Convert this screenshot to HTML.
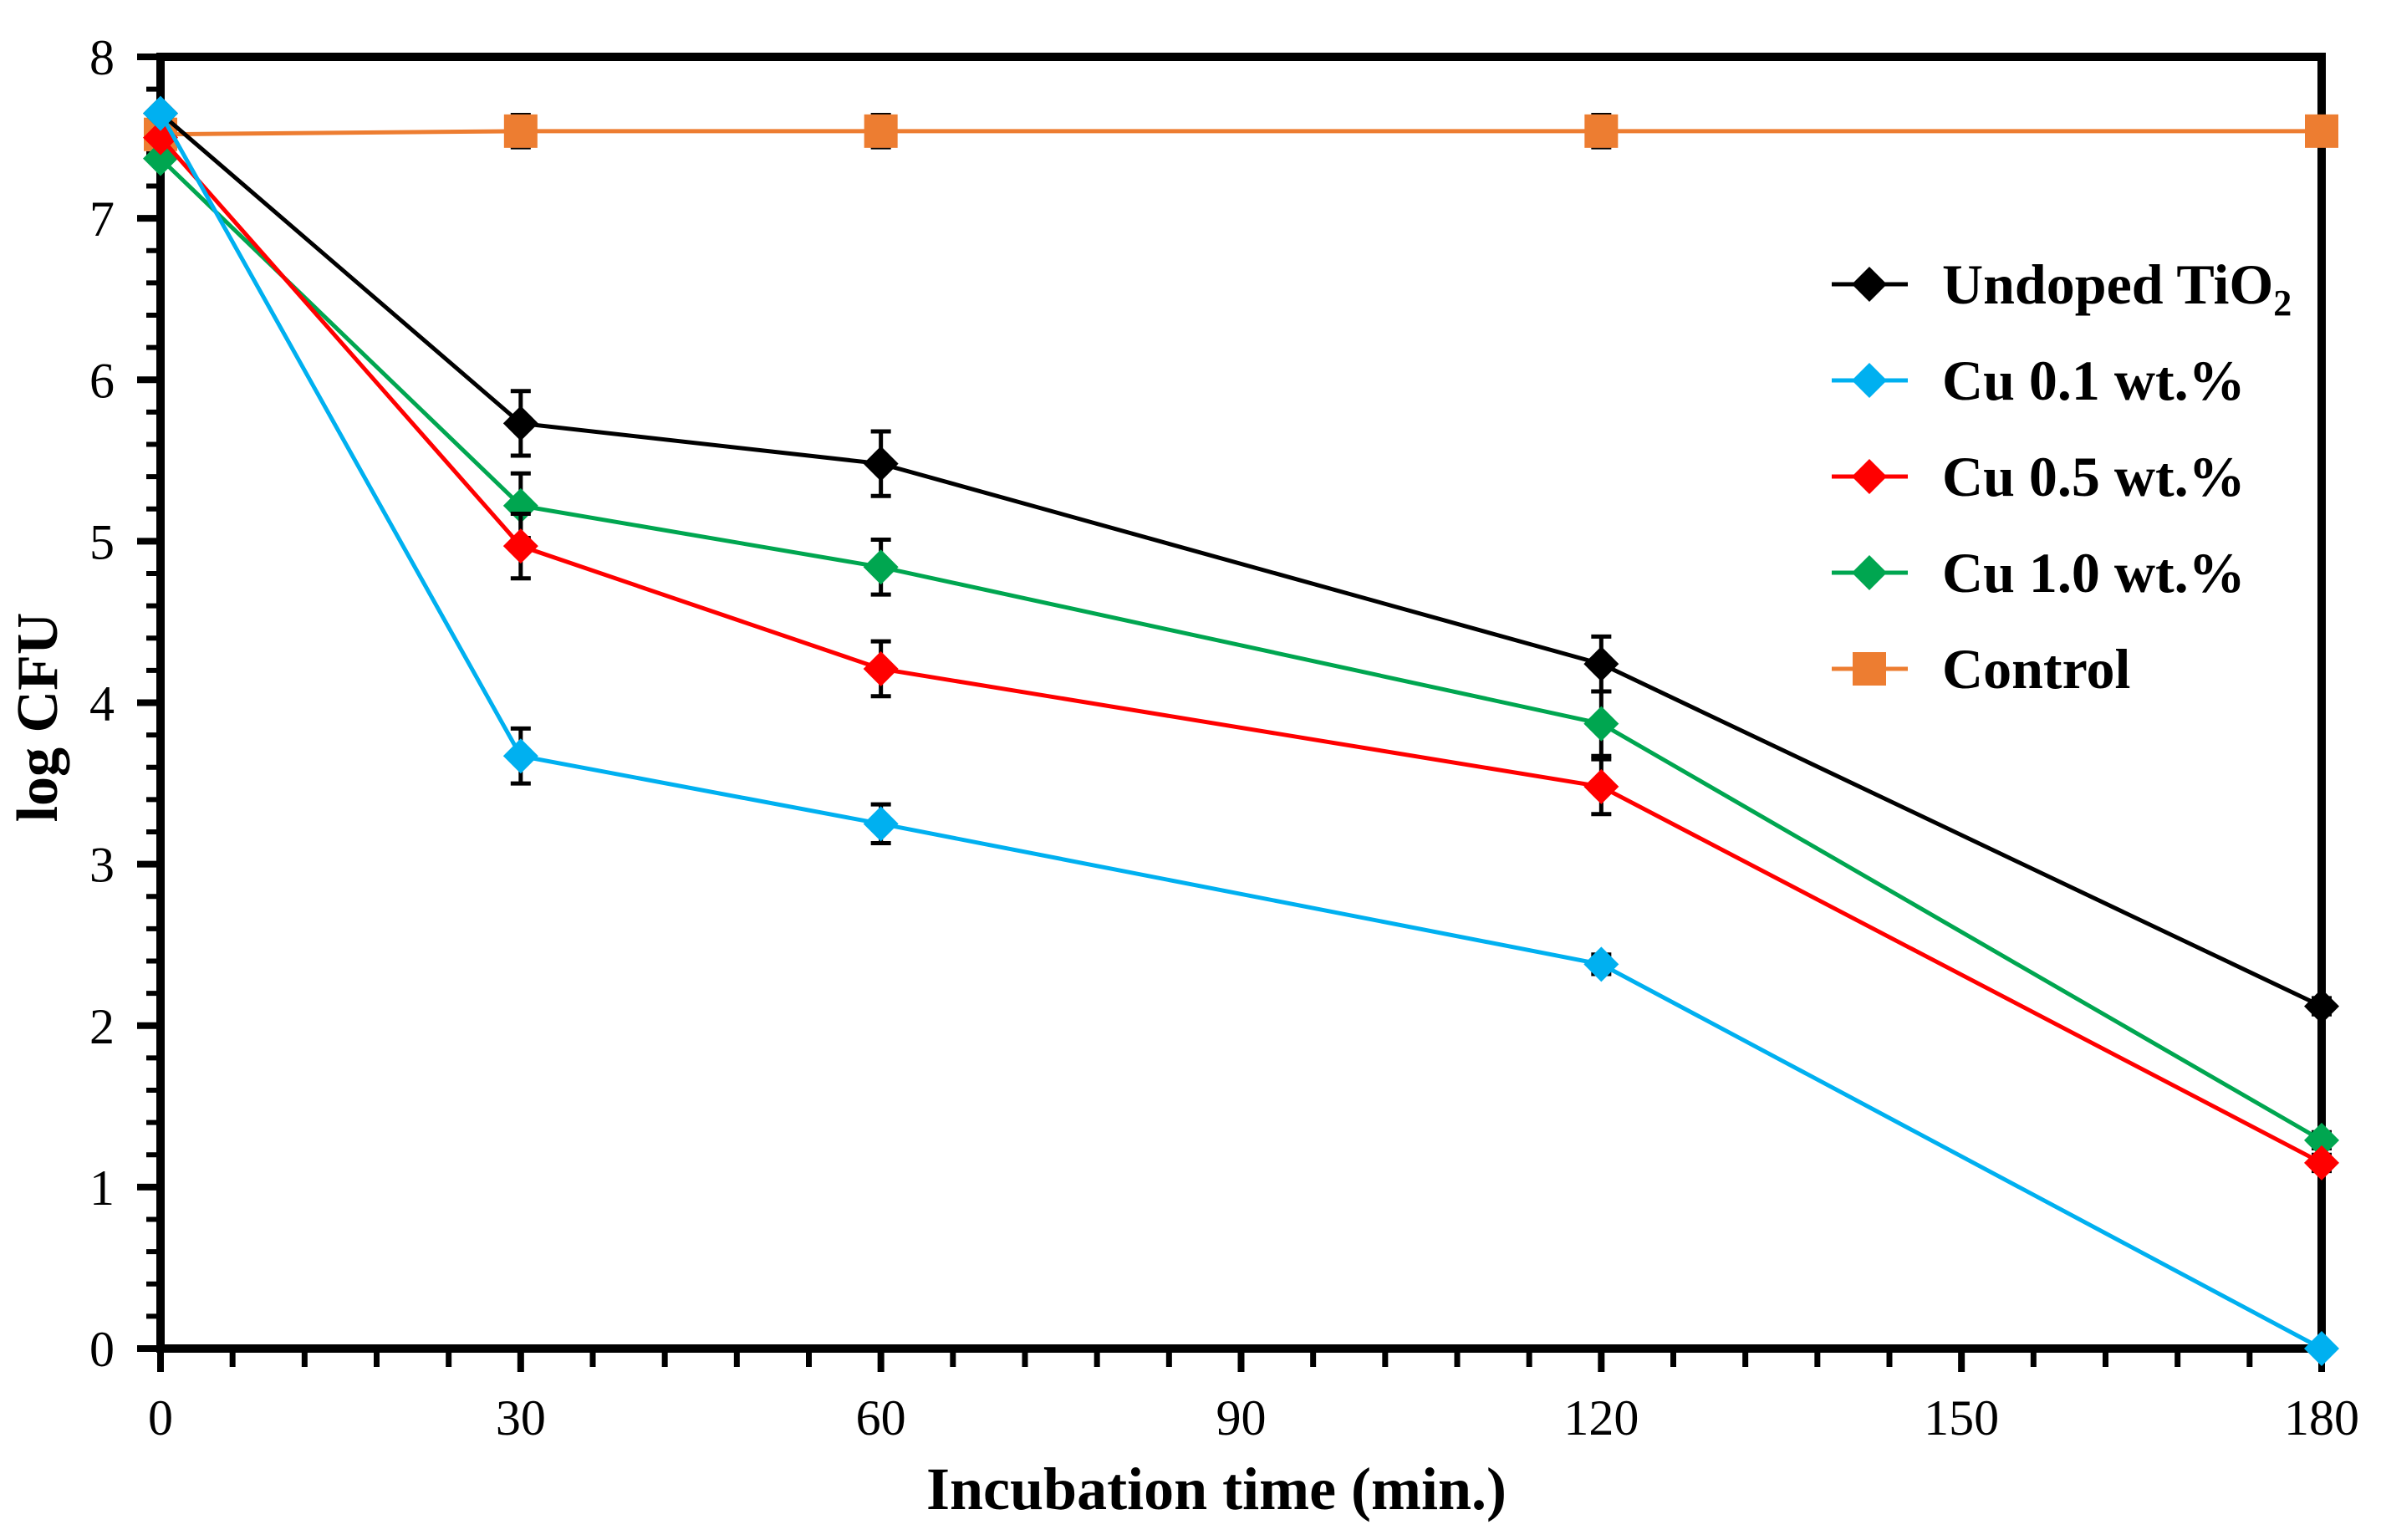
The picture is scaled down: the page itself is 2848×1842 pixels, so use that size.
<!DOCTYPE html>
<html><head><meta charset="utf-8"><style>
html,body{margin:0;padding:0;background:#fff;}
svg{display:block;font-family:"Liberation Serif",serif;}
</style></head><body>
<svg id="chart" width="2848" height="1842" viewBox="0 0 2848 1842">
<g id="axes"></g><g id="series"></g><g id="legend"></g>
<text x="68" y="858" transform="rotate(-90 68 858)" text-anchor="middle" font-size="70" font-weight="bold">log CFU</text>
<text x="1455" y="1805" text-anchor="middle" font-size="72" font-weight="bold">Incubation time (min.)</text>
</svg>
<script>
const times=[0,30,60,120,180];
const undoped=[7.65,5.73,5.48,4.24,2.12];
const cu01=[7.65,3.67,3.25,2.38,0];
const cu05=[7.5,4.97,4.21,3.48,1.15];
const cu10=[7.37,5.22,4.84,3.87,1.29];
const control=[7.52,7.54,7.54,7.54,7.54];
const errUndoped=[0,0.2,0.2,0.17,0.05];
const errCu01=[0,0.17,0.12,0.06,0];
const errCu05=[0,0.2,0.17,0.17,0.05];
const errCu10=[0,0.2,0.17,0.2,0.05];
const errControl=[0,0.1,0.1,0.1,0.05];
const xTicks=[0,30,60,90,120,150,180];
const yTicks=[0,1,2,3,4,5,6,7,8];
const seriesNames=["Undoped TiO2","Cu 0.1 wt.%","Cu 0.5 wt.%","Cu 1.0 wt.%","Control"];

const X0=192,X1=2777,Y0=1613,Y1=68;
const sx=v=>X0+(X1-X0)*v/180;
const sy=v=>Y0-(Y0-Y1)*v/8;
const NS="http://www.w3.org/2000/svg";
function mk(tag,attrs,parent){const e=document.createElementNS(NS,tag);for(const k in attrs)e.setAttribute(k,attrs[k]);parent.appendChild(e);return e;}
const axes=document.getElementById('axes'),ser=document.getElementById('series'),leg=document.getElementById('legend');

for(let v=0;v<=180;v+=6){if(v%30===0)continue;const t=mk('line',{x1:sx(v),x2:sx(v),y1:Y0,y2:Y0+22,stroke:'#000','stroke-width':7},axes);

}
for(let i=1;i<40;i++){if(i%5===0)continue;const v=i*0.2;const t=mk('line',{x1:X0-17,x2:X0,y1:sy(v),y2:sy(v),stroke:'#000','stroke-width':6},axes);

}
xTicks.forEach(v=>{const t=mk('line',{x1:sx(v),x2:sx(v),y1:Y0,y2:Y0+28,stroke:'#000','stroke-width':8},axes);


const l=mk('text',{x:sx(v),y:Y0+103,'text-anchor':'middle','font-size':60},axes);l.textContent=v;

});
yTicks.forEach(v=>{const t=mk('line',{x1:X0-28,x2:X0,y1:sy(v),y2:sy(v),stroke:'#000','stroke-width':8},axes);


const l=mk('text',{x:X0-55,y:sy(v)+21,'text-anchor':'end','font-size':60},axes);l.textContent=v;

});
const frame=mk('rect',{x:X0,y:Y1,width:X1-X0,height:Y0-Y1,fill:'none',stroke:'#000','stroke-width':10},axes);



const defs=[
 {vals:control,err:errControl,color:'#ED7D31',shape:'square',name:'control'},
 {vals:undoped,err:errUndoped,color:'#000000',shape:'diamond',name:'undoped-tio2'},
 {vals:cu10,err:errCu10,color:'#00A650',shape:'diamond',name:'cu-1-0'},
 {vals:cu05,err:errCu05,color:'#FF0000',shape:'diamond',name:'cu-0-5'},
 {vals:cu01,err:errCu01,color:'#00B0F0',shape:'diamond',name:'cu-0-1'}
];
function marker(shape,cx,cy,color,parent){
 if(shape==='square')return mk('rect',{x:cx-20,y:cy-20,width:40,height:40,fill:color},parent);
 return mk('polygon',{points:`${cx},${cy-21} ${cx+21},${cy} ${cx},${cy+21} ${cx-21},${cy}`,fill:color},parent);
}
defs.forEach(d=>{
 const g=mk('g',{},ser);
 
 
 const pl=mk('polyline',{points:times.map((t,i)=>sx(t)+','+sy(d.vals[i])).join(' '),fill:'none',stroke:d.color,'stroke-width':5},g);
 
 
 times.forEach((t,i)=>{
  const e=d.err[i];
  if(e>0){const eb=mk('path',{d:`M${sx(t)},${sy(d.vals[i]+e)}V${sy(d.vals[i]-e)}M${sx(t)-12},${sy(d.vals[i]+e)}h24M${sx(t)-12},${sy(d.vals[i]-e)}h24`,stroke:'#000','stroke-width':5,fill:'none'},g);
  
  }
  const m=marker(d.shape,sx(t),sy(d.vals[i]),d.color,g);
  
  
 });
});
const legColors=['#000000','#00B0F0','#FF0000','#00A650','#ED7D31'];
const legShapes=['diamond','diamond','diamond','diamond','square'];
seriesNames.forEach((n,i)=>{
 const y=340+i*115;
 const g=mk('g',{},leg);
 
 
 mk('line',{x1:2191,x2:2282,y1:y,y2:y,stroke:legColors[i],'stroke-width':5},g);
 marker(legShapes[i],2236,y,legColors[i],g);
 const t=mk('text',{x:2323,y:y+23,'font-size':68,'font-weight':'bold'},g);
 if(i===0){t.textContent='Undoped TiO';const s=mk('tspan',{'font-size':44,dy:14},t);s.textContent='2';}
 else t.textContent=n;
});
</script>
</body></html>
